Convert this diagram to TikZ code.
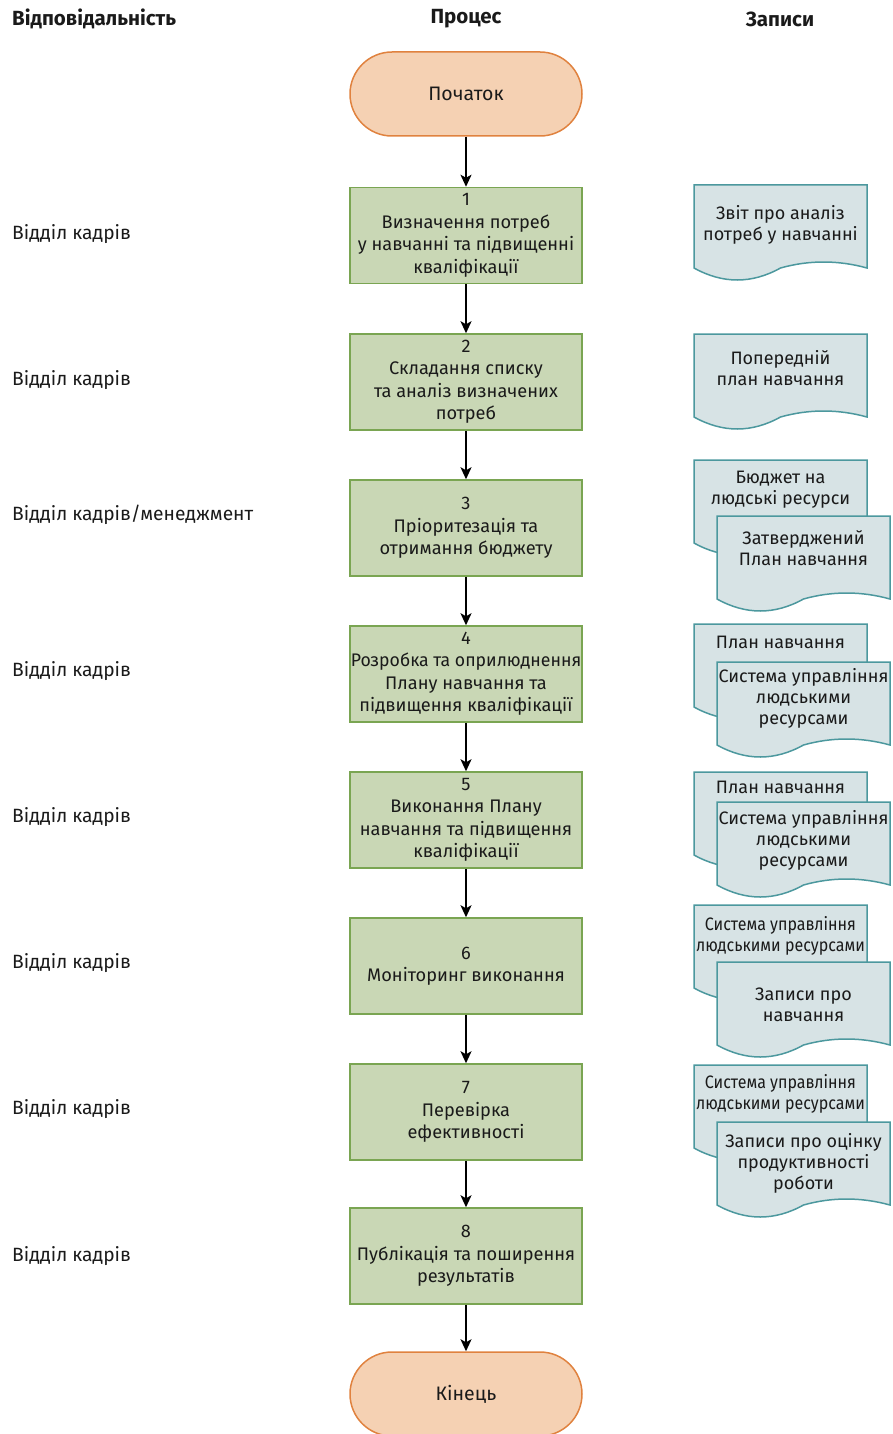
\documentclass[tikz,border=0pt]{standalone}
\usepackage{fontspec}
\setmainfont{Fira Sans}
\usetikzlibrary{arrows.meta}

\definecolor{termfill}{HTML}{F5D1B3}
\definecolor{termline}{HTML}{E0823F}
\definecolor{procfill}{HTML}{C9D7B5}
\definecolor{procline}{HTML}{7AA552}
\definecolor{docfill}{HTML}{D7E3E5}
\definecolor{docline}{HTML}{4C989E}
\definecolor{txt}{HTML}{1A1A1A}

% a record document with a wavy lower edge; #1 name, #2 left, #3 top,
% #4 vertical centre of the text, #5 text
\newcommand\recdoc[5]{%
  \draw[recshape] (#2,#3) -- ({#2+173},#3) -- ({#2+173},{#3+83})
    .. controls ({#2+144},{#3+75}) and ({#2+115},{#3+75}) .. ({#2+86.5},{#3+83})
    .. controls ({#2+57.7},{#3+99}) and ({#2+28.8},{#3+99}) .. (#2,{#3+83}) -- cycle;
  \node[rectext] (#1) at ({#2+86.5},#4) {#5};
}
\newcommand\narrow[1]{\scalebox{0.89}[1]{#1}}
\newcommand\snug[1]{\scalebox{0.97}[1]{#1}}

\begin{document}
\begin{tikzpicture}[x=1pt,y=-1pt,
  every node/.style={text=txt},
  terminal/.style={draw=termline, fill=termfill, line width=1.5pt,
    rounded corners=42pt, minimum width=232pt, minimum height=84pt,
    font=\fontsize{19.5}{22}\selectfont},
  stepbox/.style={draw=procline, fill=procfill, line width=1.5pt,
    minimum width=232pt, minimum height=96pt, inner sep=0pt, align=center,
    font=\fontsize{18.2}{22.5}\selectfont},
  recshape/.style={draw=docline, fill=docfill, line width=1.5pt},
  rectext/.style={inner sep=0pt, align=center, font=\fontsize{18}{21}\selectfont},
  header/.style={inner sep=0pt, font=\fontsize{20.5}{22}\selectfont\bfseries},
  owner/.style={inner sep=0pt, anchor=west, font=\fontsize{19.2}{22}\selectfont},
  flow/.style={draw=black, line width=1.6pt, -{Stealth[length=12pt,width=11pt,inset=3pt]}}
]
\useasboundingbox (0,0) rectangle (893,1434);

% column headings
\node[header, anchor=west] (hresp) at (12,19) {Відповідальність};
\node[header] (hproc) at (466,19) {Процес};
\node[header] (hrec) at (780,19) {Записи};

% process column
\node[terminal] (start) at (466,94) {Початок};
\node[stepbox] (s1) at (466,235.5) {1\\Визначення потреб\\у навчанні та підвищенні\\кваліфікації};
\node[stepbox] (s2) at (466,382) {2\\Складання списку\\та аналіз визначених\\потреб};
\node[stepbox] (s3) at (466,528) {3\\Пріоритезація та\\отримання бюджету};
\node[stepbox] (s4) at (466,674) {4\\\snug{Розробка та оприлюднення}\\Плану навчання та\\підвищення кваліфікації};
\node[stepbox] (s5) at (466,820) {5\\Виконання Плану\\навчання та підвищення\\кваліфікації};
\node[stepbox] (s6) at (466,966) {6\\Моніторинг виконання};
\node[stepbox] (s7) at (466,1112) {7\\Перевірка\\ефективності};
\node[stepbox] (s8) at (466,1256) {8\\Публікація та поширення\\результатів};
\node[terminal] (finish) at (466,1394) {Кінець};

\draw[flow] (start) -- (s1);
\draw[flow] (s1) -- (s2);
\draw[flow] (s2) -- (s3);
\draw[flow] (s3) -- (s4);
\draw[flow] (s4) -- (s5);
\draw[flow] (s5) -- (s6);
\draw[flow] (s6) -- (s7);
\draw[flow] (s7) -- (s8);
\draw[flow] (s8) -- (finish);

% responsibility column
\node[owner] (o1) at (12,234) {Відділ кадрів};
\node[owner] (o2) at (12,380) {Відділ кадрів};
\node[owner] (o3) at (12,515) {Відділ кадрів/менеджмент};
\node[owner] (o4) at (12,671) {Відділ кадрів};
\node[owner] (o5) at (12,817) {Відділ кадрів};
\node[owner] (o6) at (12,963) {Відділ кадрів};
\node[owner] (o7) at (12,1109) {Відділ кадрів};
\node[owner] (o8) at (12,1256) {Відділ кадрів};

% records column
\recdoc{r1}{694}{185}{224.5}{Звіт про аналіз\\потреб у навчанні}
\recdoc{r2}{694}{334}{368.5}{Попередній\\план навчання}
\recdoc{r3a}{694}{460}{489.5}{Бюджет на\\людські ресурси}
\recdoc{r3b}{717}{516}{548}{Затверджений\\План навчання}
\recdoc{r4a}{694}{624}{642}{План навчання}
\recdoc{r4b}{717}{662}{698}{Система управління\\людськими\\ресурсами}
\recdoc{r5a}{694}{772}{787}{План навчання}
\recdoc{r5b}{717}{802}{840}{Система управління\\людськими\\ресурсами}
\recdoc{r6a}{694}{905}{935.5}{\narrow{Система управління}\\\narrow{людськими ресурсами}}
\recdoc{r6b}{717}{962}{1005}{Записи про\\навчання}
\recdoc{r7a}{694}{1065}{1093.5}{\narrow{Система управління}\\\narrow{людськими ресурсами}}
\recdoc{r7b}{717}{1122}{1163}{Записи про оцінку\\продуктивності\\роботи}
\end{tikzpicture}
\end{document}
